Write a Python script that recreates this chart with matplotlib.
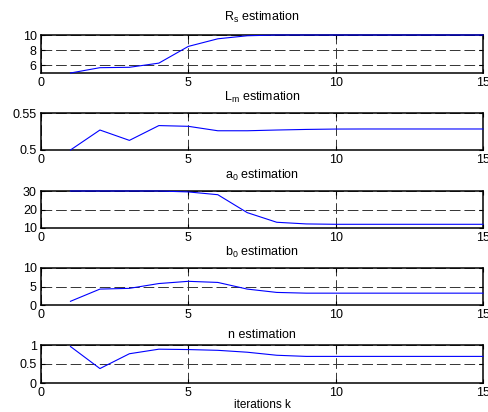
import matplotlib.pyplot as plt
import numpy as np

plt.rcParams['font.family'] = ['Liberation Sans', 'DejaVu Sans']
plt.rcParams['font.size'] = 9
plt.rcParams['mathtext.default'] = 'regular'

k = np.arange(1, 16)

rs = [5.0, 5.7, 5.75, 6.3, 8.5, 9.5, 9.9, 10.0, 10.0, 10.0, 10.0, 10.0, 10.0, 10.0, 10.0]
lm = [0.5, 0.527, 0.513, 0.533, 0.532, 0.526, 0.526, 0.527, 0.5278, 0.5283, 0.5284, 0.5284, 0.5284, 0.5284, 0.5284]
a0 = [30.0, 30.0, 30.0, 30.0, 29.5, 28.0, 18.3, 13.1, 12.2, 12.0, 12.0, 12.0, 12.0, 12.0, 12.0]
b0 = [1.0, 4.3, 4.5, 5.8, 6.4, 6.1, 4.3, 3.4, 3.2, 3.2, 3.2, 3.2, 3.2, 3.2, 3.2]
n_est = [0.96, 0.38, 0.77, 0.89, 0.88, 0.86, 0.81, 0.73, 0.70, 0.70, 0.70, 0.70, 0.70, 0.70, 0.70]

titles = ['R$_s$ estimation', 'L$_m$ estimation', 'a$_0$ estimation',
          'b$_0$ estimation', 'n estimation']
series = [rs, lm, a0, b0, n_est]
ylims = [(5, 10), (0.5, 0.55), (10, 30), (0, 10), (0, 1)]
yticks = [[6, 8, 10], [0.5, 0.55], [10, 20, 30], [0, 5, 10], [0, 0.5, 1]]
yticklabels = [['6', '8', '10'], ['0.5', '0.55'], ['10', '20', '30'],
               ['0', '5', '10'], ['0', '0.5', '1']]
xticks = [0, 5, 10, 15]

W, H = 489, 412
fig = plt.figure(figsize=(W / 100, H / 100), dpi=100)

# axes boxes in pixels: (top, bottom), title gap in points
boxes = [(35, 73), (113, 150), (191, 228), (268, 305), (345, 383)]
pads = [10, 9, 9, 9, 5]
left, right = 41, 483

for i in range(5):
    top, bot = boxes[i]
    ax = fig.add_axes([left / W, 1 - bot / H, (right - left) / W, (bot - top) / H])
    ax.plot(k, series[i], color='blue', lw=0.8, zorder=3, clip_on=False)
    ax.set_xlim(0, 15)
    ax.set_ylim(*ylims[i])
    ax.set_xticks(xticks)
    ax.set_yticks(yticks[i])
    ax.set_yticklabels(yticklabels[i])
    ax.tick_params(direction='in', length=3, width=0.8, top=True, right=True, pad=3)
    ax.grid(True, color='#333333', linestyle=(0, (11, 4)), linewidth=0.7)
    for s in ax.spines.values():
        s.set_linewidth(1.1)
        s.set_zorder(2.5)
    ax.set_title(titles[i], fontsize=9, pad=pads[i])

ax.set_xlabel('iterations k', fontsize=8.5, labelpad=0)

fig.savefig('out.png', dpi=100)
